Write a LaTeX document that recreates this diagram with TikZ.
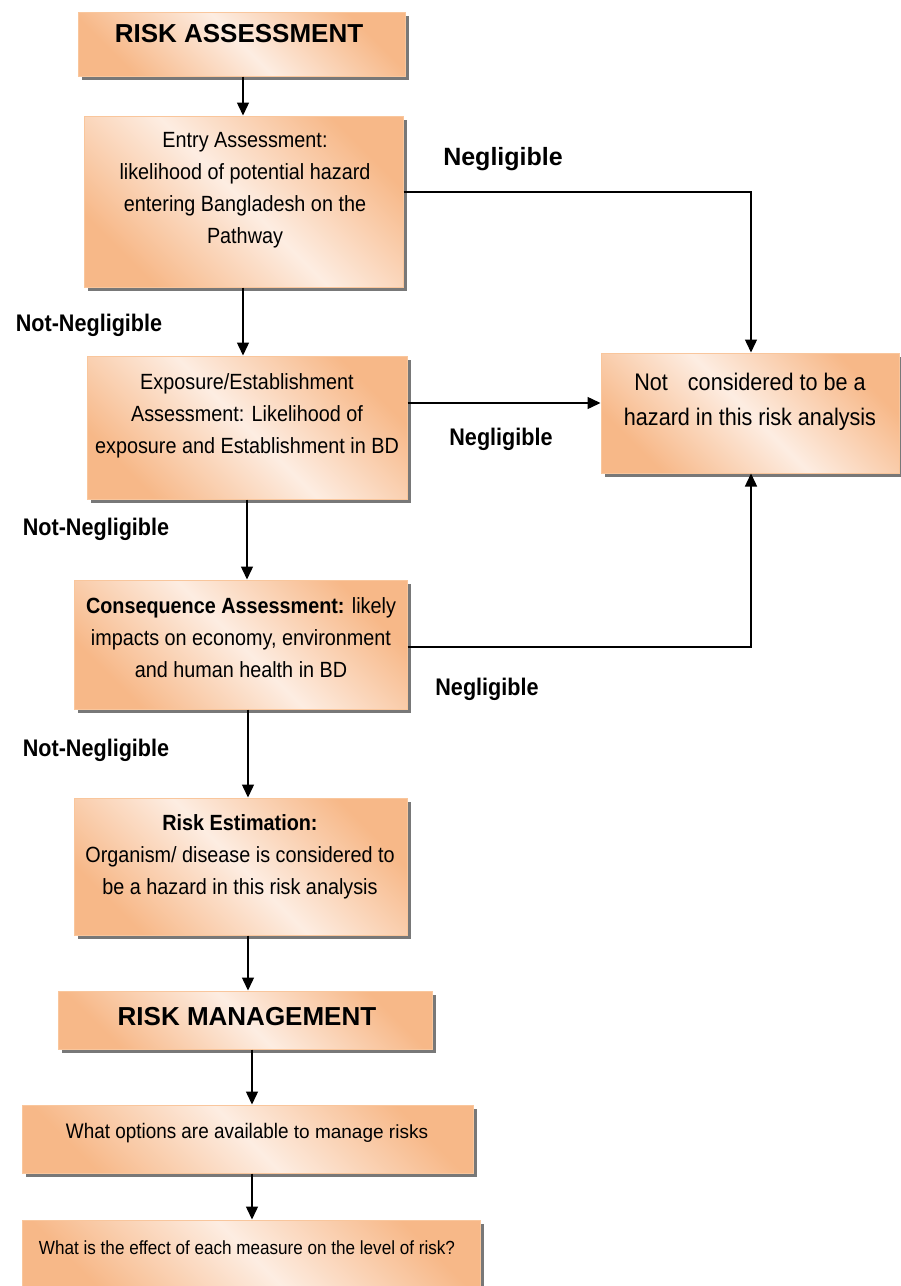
\documentclass[tikz,border=0pt]{standalone}
\usepackage{fontspec}
\setmainfont{Liberation Sans}
\newfontfamily\nf{Liberation Sans}[FakeStretch=0.9]
\usetikzlibrary{shadows,arrows.meta}
\definecolor{orng}{RGB}{247,184,136}
\definecolor{lite}{RGB}{253,237,226}
\definecolor{edge}{RGB}{249,198,156}
\definecolor{shd}{RGB}{120,120,120}
\begin{document}
\begin{tikzpicture}[x=1pt,y=-1pt,
  box/.style={draw=edge,line width=1pt,top color=orng,bottom color=orng,middle color=lite,shading angle=-45,inner sep=0pt,
    drop shadow={shadow xshift=4pt,shadow yshift=-4pt,fill=shd,opacity=1}},
  arr/.style={-{Triangle[length=13pt,width=12pt]},line width=1.4pt},
  body/.style={font=\nf\fontsize{22}{32}\selectfont,align=center,inner sep=0pt},
  lab/.style={font=\nf\bfseries\fontsize{24}{28}\selectfont,inner sep=0pt,anchor=base},
  title/.style={font=\bfseries\fontsize{26}{30}\selectfont,inner sep=0pt}]
\useasboundingbox (0,0) rectangle (901,1286);
% boxes
\node[box,minimum width=327pt,minimum height=64pt] (b1) at (241.5,44) {};
\node[box,minimum width=319pt,minimum height=171pt] (b2) at (243.5,201.5) {};
\node[box,minimum width=320pt,minimum height=143pt] (b3) at (247,427.5) {};
\node[box,minimum width=298pt,minimum height=120pt] (b4) at (750,413) {};
\node[box,minimum width=333pt,minimum height=129pt] (b5) at (240.5,644.5) {};
\node[box,minimum width=333pt,minimum height=137pt] (b6) at (240.5,866.5) {};
\node[box,minimum width=374pt,minimum height=58pt] (b7) at (245,1020) {};
\node[box,minimum width=451pt,minimum height=68pt] (b8) at (247.5,1139) {};
\node[box,minimum width=458pt,minimum height=70pt] (b9) at (251,1255) {};
% texts
\node[title] (t1) at (239,34) {RISK ASSESSMENT};
\node[body] (t2) at (245,190) {Entry Assessment:\\likelihood of potential hazard\\entering Bangladesh on the\\Pathway};
\node[body] (t3) at (247,416) {Exposure/Establishment\\Assessment: Likelihood of\\exposure and Establishment in BD};
\node[body,font=\nf\fontsize{24}{35}\selectfont] (t4) at (750,402) {Not\hspace{14pt} considered to be a\\hazard in this risk analysis};
\node[body] (t5) at (241,638) {\textbf{Consequence Assessment:} likely\\impacts on economy, environment\\and human health in BD};
\node[body] (t6) at (240,857) {\textbf{Risk Estimation:}\\Organism/ disease is considered to\\be a hazard in this risk analysis};
\node[title] (t7) at (247,1017) {RISK MANAGEMENT};
\node[inner sep=0pt,anchor=base] (t8) at (247,1138) {{\nf\fontsize{21}{24}\selectfont What options are available }{\fontsize{19}{24}\selectfont to manage risks}};
\node[inner sep=0pt,anchor=base,font=\nf\fontsize{19}{24}\selectfont] (t9) at (247,1254) {What is the effect of each measure on the level of risk?};
% labels
\node[lab,font=\bfseries\fontsize{25}{28}\selectfont] (l1) at (503,165) {Negligible};
\node[lab] (l2) at (89,331) {Not-Negligible};
\node[lab] (l3) at (501,445) {Negligible};
\node[lab] (l4) at (96,535) {Not-Negligible};
\node[lab] (l5) at (487,695) {Negligible};
\node[lab] (l6) at (96,756) {Not-Negligible};
% vertical arrows
\coordinate (x1) at (243,0);
\coordinate (x2) at (247,0);
\coordinate (x3) at (248,0);
\coordinate (x4) at (252,0);
\draw[arr] (b1.south -| x1) -- (b2.north -| x1);
\draw[arr] (b2.south -| x1) -- (b3.north -| x1);
\draw[arr] (b3.south -| x2) -- (b5.north -| x2);
\draw[arr] (b5.south -| x3) -- (b6.north -| x3);
\draw[arr] (b6.south -| x3) -- (b7.north -| x3);
\draw[arr] (b7.south -| x4) -- (b8.north -| x4);
\draw[arr] (b8.south -| x4) -- (b9.north -| x4);
% negligible connectors
\coordinate (r1) at (751,192);
\coordinate (r2) at (0,403);
\coordinate (r3) at (751,647);
\draw[arr] (b2.east |- r1) -- (r1) -- (b4.north -| r1);
\draw[arr] (b3.east |- r2) -- (b4.west |- r2);
\draw[arr] (b5.east |- r3) -- (r3) -- (b4.south -| r3);
\end{tikzpicture}
\end{document}
